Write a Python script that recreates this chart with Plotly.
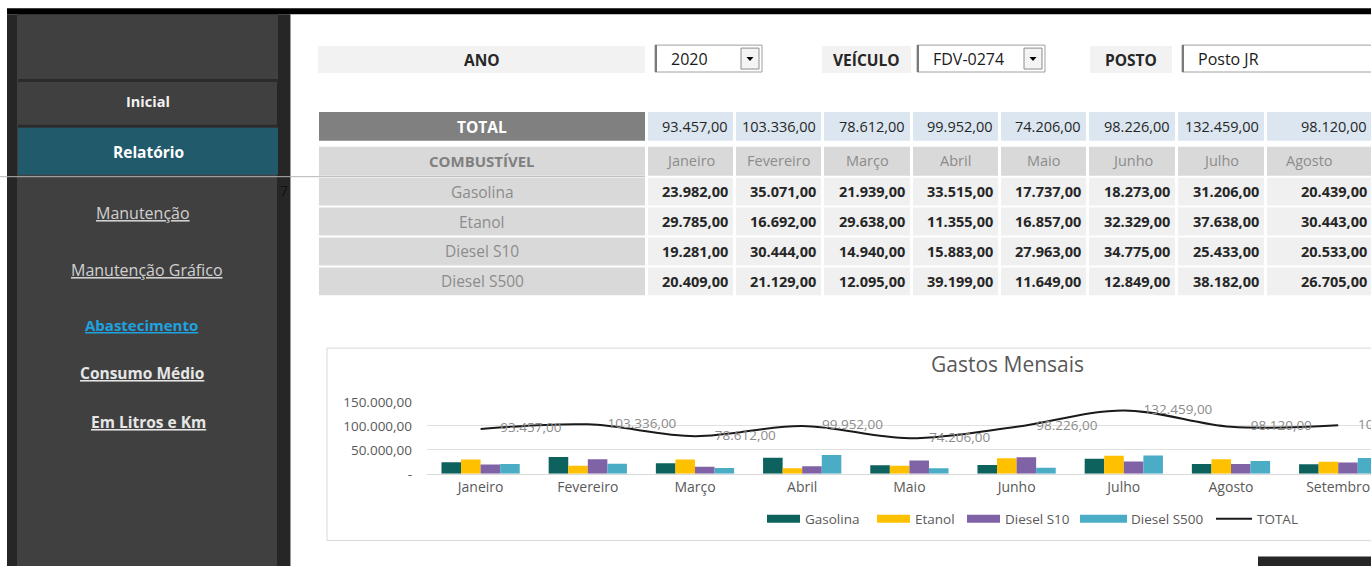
import plotly.graph_objects as go

# ---------------- data ----------------
months = ["Janeiro", "Fevereiro", "Março", "Abril", "Maio", "Junho", "Julho", "Agosto", "Setembro"]
gasolina = [23982, 35071, 21939, 33515, 17737, 18273, 31206, 20439, 20150]
etanol = [29785, 16692, 29638, 11355, 16857, 32329, 37638, 30443, 24950]
diesel_s10 = [19281, 30444, 14940, 15883, 27963, 34775, 25433, 20533, 23550]
diesel_s500 = [20409, 21129, 12095, 39199, 11649, 12849, 38182, 26705, 32850]
series_names = ["Gasolina", "Etanol", "Diesel S10", "Diesel S500"]
series_values = [gasolina, etanol, diesel_s10, diesel_s500]
series_colors = ["#0d625e", "#ffc000", "#7f63a6", "#4bacc6"]
total = [sum(v) for v in zip(gasolina, etanol, diesel_s10, diesel_s500)]
ytick_vals = [0, 50000, 100000, 150000]
ytick_text = ["-", "50.000,00", "100.000,00", "150.000,00"]
table_months = months[:8]
menu_items = ["Inicial", "Relatório", "Manutenção", "Manutenção Gráfico",
              "Abastecimento", "Consumo Médio", "Em Litros e Km"]
filters = [("ANO", "2020"), ("VEÍCULO", "FDV-0274"), ("POSTO", "Posto JR")]

W, H = 1371, 590
FONT = "Open Sans"
SIDE_FONT = "Open Sans"
VS, VOFF = 0.9725, 8.0   # vertical photo mapping compensation


def X(px):
    return px / W


def Y(py):
    return 1 - (py / VS - VOFF) / H


def br(v):
    s = f"{v:,.2f}"
    return s.replace(",", "#").replace(".", ",").replace("#", ".")


shapes = []
annotations = []


def rect(x0, y0, x1, y1, fill, line=None, lw=1, layer="below"):
    shapes.append(dict(type="rect", xref="paper", yref="paper",
                       x0=X(x0), x1=X(x1), y0=Y(y1), y1=Y(y0),
                       fillcolor=fill, layer=layer,
                       line=dict(color=line or fill, width=lw if line else 0)))


def hline(x0, x1, y, color, width=1, layer="below"):
    shapes.append(dict(type="line", xref="paper", yref="paper",
                       x0=X(x0), x1=X(x1), y0=Y(y), y1=Y(y),
                       line=dict(color=color, width=width), layer=layer))


def vline(x, y0, y1, color, width=1, layer="below"):
    shapes.append(dict(type="line", xref="paper", yref="paper",
                       x0=X(x), x1=X(x), y0=Y(y0), y1=Y(y1),
                       line=dict(color=color, width=width), layer=layer))


def text(x, y, s, size=13, color="#000", family=FONT, anchor="center"):
    annotations.append(dict(xref="paper", yref="paper", x=X(x), y=Y(y), text=s,
                            showarrow=False, xanchor=anchor, yanchor="middle",
                            font=dict(family=family, size=size, color=color)))


BOT = 600
# ---------------- sidebar ----------------
rect(7, 13, 290, BOT, "#262626")
rect(17, 13, 277, BOT, "#404040")
rect(18, 13, 278, 78, "#404040")
rect(18, 78, 278, 81, "#2b2b2b")
rect(18, 124, 278, 127, "#2b2b2b")
rect(18, 127, 278, 174, "#215a6b")
rect(7, 7, W, 13, "#000000")
vline(290.5, 13, BOT, "#9a9a9a")
hline(0, 645, 176, "#b4b4b4")
rect(1258, 557, W, BOT, "#262626")

menu_pos = [(148, 101), (148, 151), (143, 212), (147, 270), (141, 325), (142, 373), (148, 422)]
menu_style = [
    ("<b>{}</b>", "#f2f2f2", 14.5),
    ("<b>{}</b>", "#ffffff", 15.5),
    ("<u>{}</u>", "#d0d0d0", 16),
    ("<u>{}</u>", "#d0d0d0", 16),
    ("<b><u>{}</u></b>", "#1fa2e0", 15),
    ("<b><u>{}</u></b>", "#e6e6e6", 15.5),
    ("<b><u>{}</u></b>", "#e6e6e6", 15.5),
]
for name, (px, py), (fmt, col, sz) in zip(menu_items, menu_pos, menu_style):
    text(px, py, fmt.format(name), size=sz, color=col, family=SIDE_FONT)
text(284, 190, "7", size=14, color="#111111", family=FONT)

# ---------------- filters ----------------
label_boxes = [(318, 645), (822, 911), (1090, 1172)]
value_boxes = [(655, 762), (917, 1045), (1182, 1390)]
for (lab, val), (lx0, lx1), (vx0, vx1) in zip(filters, label_boxes, value_boxes):
    rect(lx0, 45, lx1, 72, "#f2f2f2")
    text((lx0 + lx1) / 2, 59, f"<b>{lab}</b>", size=15.5, color="#262626")
    rect(vx0, 44, vx1, 71, "#ffffff", line="#a0a0a0", lw=1)
    vline(vx0 + 1, 44, 71, "#7a7a7a", width=2)
    text(vx0 + 14, 58, val, size=16, color="#1a1a1a", anchor="left")
    if lab != "POSTO":
        bx0, bx1 = vx1 - 21, vx1 - 3
        rect(bx0, 47, bx1, 68, "#f4f4f4", line="#8c8c8c", lw=1)
        cx = (bx0 + bx1) / 2
        shapes.append(dict(type="path", xref="paper", yref="paper", layer="above",
                           path=f"M {X(cx-3.5)},{Y(56)} L {X(cx+3.5)},{Y(56)} L {X(cx)},{Y(60)} Z",
                           fillcolor="#000000", line=dict(width=0)))

# ---------------- table ----------------
col_edges = [(648, 733), (736, 821), (824, 910), (913, 998), (1001, 1086),
             (1089, 1175), (1178, 1264), (1267, 1390)]
lab_x0, lab_x1 = 319, 645
rect(lab_x0, 111, lab_x1, 140, "#808080")
text((lab_x0 + lab_x1) / 2, 126, "<b>TOTAL</b>", size=15.5, color="#ffffff")
for (c0, c1), v in zip(col_edges, total[:8]):
    rect(c0, 111, c1, 140, "#dce6f1")
    text(min(c1, W + 1) - 3, 126, br(v), size=14.5, color="#262626", anchor="right")
rect(lab_x0, 146, lab_x1, 175, "#d9d9d9")
text((lab_x0 + lab_x1) / 2, 160, "<b>COMBUSTÍVEL</b>", size=15, color="#808080")
for (c0, c1), m in zip(col_edges, table_months):
    rect(c0, 146, c1, 175, "#d9d9d9")
    text((c0 + min(c1, 1352)) / 2, 160, m, size=14.5, color="#8c8c8c")
row_y = [(177, 205), (207, 235), (237, 265), (267, 295)]
for name, vals, (r0, r1) in zip(series_names, series_values, row_y):
    rect(lab_x0, r0, lab_x1, r1, "#d9d9d9")
    text((lab_x0 + lab_x1) / 2, (r0 + r1) / 2, name, size=15.5, color="#8c8c8c")
    for (c0, c1), v in zip(col_edges, vals[:8]):
        rect(c0, r0, c1, r1, "#f0f0f0")
        text(min(c1, W + 1) - 3, (r0 + r1) / 2, f"<b>{br(v)}</b>", size=14.5,
             color="#262626", anchor="right")

# ---------------- chart box ----------------
rect(327, 348, 1400, 541, "#ffffff", line="#d9d9d9", lw=1)
text(1007, 364, "Gastos Mensais", size=21, color="#595959")

leg_y = 519
leg_items = [(767, 800, 803), (877, 910, 913), (967, 1000, 1003), (1080, 1127, 1129)]
for (s0, s1, tx), name, col in zip(leg_items, series_names, series_colors):
    rect(s0, leg_y - 4, s1, leg_y + 4, col, layer="above")
    text(tx, leg_y, name, size=13.5, color="#595959", anchor="left")
hline(1216, 1252, leg_y, "#1a1a1a", width=2, layer="above")
text(1255, leg_y, "TOTAL", size=13.5, color="#595959", anchor="left")

# ---------------- chart traces ----------------
fig = go.Figure()
for name, vals, col in zip(series_names, series_values, series_colors):
    fig.add_trace(go.Bar(x=months, y=vals, name=name, marker=dict(color=col, line=dict(width=0)),
                         showlegend=False, hoverinfo="skip"))
fig.add_trace(go.Scatter(x=months, y=total, name="TOTAL", mode="lines+markers+text",
                         line=dict(color="#1a1a1a", width=2, shape="spline", smoothing=1.0),
                         marker=dict(size=30, opacity=0),
                         text=[br(v) for v in total], textposition="middle right",
                         textfont=dict(family=FONT, size=13.5, color="#8c8c8c"),
                         cliponaxis=True, showlegend=False, hoverinfo="skip"))

x_left = 427
cat_w = 107.2
x_max = (W - x_left) / cat_w - 0.5

fig.update_layout(
    width=W, height=H, autosize=False,
    margin=dict(l=0, r=0, t=0, b=0, pad=0),
    paper_bgcolor="#ffffff", plot_bgcolor="rgba(0,0,0,0)",
    barmode="group", bargap=0.27, bargroupgap=0,
    shapes=shapes, annotations=annotations,
    font=dict(family=FONT),
    xaxis=dict(domain=[X(x_left), 1], range=[-0.5, x_max], showgrid=False,
               showline=True, linecolor="#d9d9d9", linewidth=1, ticks="",
               tickfont=dict(family=FONT, size=14, color="#595959"), fixedrange=True),
    yaxis=dict(domain=[Y(474), Y(402)], range=[0, 150000], tickvals=ytick_vals,
               ticktext=ytick_text, showgrid=True, gridcolor="#e0e0e0", gridwidth=1,
               zeroline=False, showline=False, ticks="", ticklabelstandoff=14,
               tickfont=dict(family=FONT, size=13.5, color="#595959"), fixedrange=True),
)

post = (
    "document.documentElement.style.margin='0';"
    "document.body.style.margin='0';"
    "document.body.style.overflow='hidden';"
)
fig.write_html("out.html", config={"displayModeBar": False}, post_script=post)
